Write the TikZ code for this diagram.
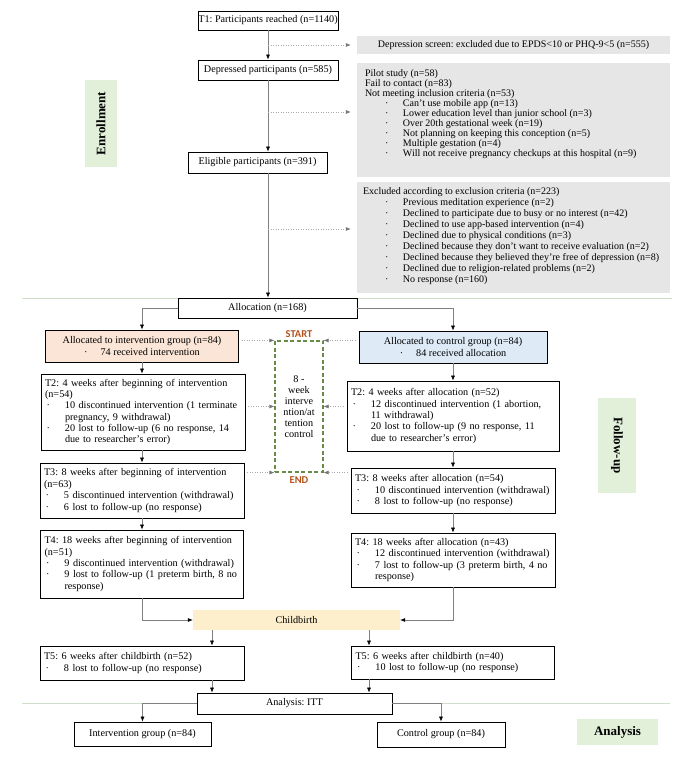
\documentclass[tikz,border=0pt]{standalone}
\usepackage{fontspec}
\setmainfont{Liberation Serif}
\newfontfamily\tagfont{Carlito}
\usepackage{tikz}
\usetikzlibrary{arrows.meta,positioning}
\frenchspacing
\hyphenpenalty=10000
\definecolor{boxgray}{RGB}{231,230,230}
\definecolor{peach}{RGB}{251,229,214}
\definecolor{paleblue}{RGB}{222,235,247}
\definecolor{paleyellow}{RGB}{253,238,204}
\definecolor{phasegreen}{RGB}{226,240,217}
\definecolor{linegray}{RGB}{128,128,128}
\definecolor{dotgray}{RGB}{170,170,170}
\definecolor{sepgreen}{RGB}{208,222,204}
\definecolor{dashgreen}{RGB}{104,140,72}
\definecolor{tagbrown}{RGB}{178,82,28}
\newcommand{\bul}{\makebox[20bp][l]{\hspace{1.5bp}·}}
\newcommand{\ind}{\hspace*{20bp}}
\newcommand{\gbul}{\hspace*{20bp}\makebox[18bp][l]{·}}
\newcommand{\boxfont}{\fontsize{10.2bp}{11.4bp}\selectfont}
\newcommand{\grayfont}{\fontsize{10bp}{10bp}\selectfont}
\tikzstyle{box} = [rectangle, draw=black, line width=0.7bp, fill=white, inner sep=0pt, font=\boxfont]
\tikzstyle{listbox} = [box, align=left, inner xsep=4bp]
\tikzstyle{graybox} = [rectangle, fill=boxgray, inner xsep=8bp, inner ysep=4bp, font=\grayfont]
\tikzstyle{phase} = [rectangle, fill=phasegreen, inner sep=0pt, font=\fontsize{13bp}{13bp}\selectfont\bfseries]
\tikzstyle{timetag} = [font=\tagfont\fontsize{10.5bp}{12bp}\selectfont\bfseries, text=tagbrown]
\tikzstyle{phasebox} = [rectangle, draw=dashgreen, line width=1.1bp, dash pattern=on 4bp off 2.5bp, align=center, inner sep=0pt, font=\fontsize{10.2bp}{11bp}\selectfont]
\tikzstyle{arrow} = [draw=linegray, line width=0.6bp, -{Latex[color=black,length=5bp,width=4bp]}]
\tikzstyle{dotarrow} = [draw=dotgray, line width=0.6bp, dash pattern=on 1bp off 1.5bp, -{Latex[color=dotgray!70!black,length=5bp,width=4bp]}]
\tikzstyle{sepline} = [draw=sepgreen, line width=0.6bp]
\begin{document}
\begin{tikzpicture}
\useasboundingbox (0bp,0bp) rectangle (684bp,759bp);
%% phase separators
\draw [sepline] (22bp,461bp) -- (672bp,461bp);
\draw [sepline] (22bp,56bp) -- (670bp,56bp);
%% enrollment
\node (t1_node) at (268bp,738.5bp) [box, line width=0.9bp, minimum width=140bp, minimum height=19bp] {T1: Participants reached (n=1140)};
\node (screen_node) at (513.5bp,714bp) [graybox, minimum width=313bp, minimum height=18bp] {Depression screen: excluded due to EPDS<10 or PHQ-9<5 (n=555)};
\node (depr_node) at (268bp,689bp) [box, line width=0.9bp, minimum width=140bp, minimum height=20bp] {Depressed participants (n=585)};
\node (pilot_node) at (513.5bp,639bp) [graybox] {\parbox[c][106bp][t]{297bp}{\vspace*{3bp}\noindent
  Pilot study (n=58)\\
  Fail to contact (n=83)\\
  Not meeting inclusion criteria (n=53)\\
  \gbul Can’t use mobile app (n=13)\\
  \gbul Lower education level than junior school (n=3)\\
  \gbul Over 20th gestational week (n=19)\\
  \gbul Not planning on keeping this conception (n=5)\\
  \gbul Multiple gestation (n=4)\\
  \gbul Will not receive pregnancy checkups at this hospital (n=9)}};
\node (elig_node) at (257.5bp,596.5bp) [box, minimum width=139bp, minimum height=21bp] {Eligible participants (n=391)};
\node (excl_node) at (513.5bp,521.5bp) [graybox] {\parbox[c][103bp][t]{297bp}{\fontsize{10bp}{11bp}\selectfont\vspace*{2bp}\noindent
  \hspace*{-2bp}Excluded according to exclusion criteria (n=223)\\
  \gbul Previous meditation experience (n=2)\\
  \gbul Declined to participate due to busy or no interest (n=42)\\
  \gbul Declined to use app-based intervention (n=4)\\
  \gbul Declined due to physical conditions (n=3)\\
  \gbul Declined because they don’t want to receive evaluation (n=2)\\
  \gbul Declined because they believed they’re free of depression (n=8)\\
  \gbul Declined due to religion-related problems (n=2)\\
  \gbul No response (n=160)}};
\node (alloc_node) at (267.5bp,451bp) [box, minimum width=179bp, minimum height=20bp] {Allocation (n=168)};
\node (enroll_node) at (101bp,635.5bp) [phase, rotate=90, minimum width=87bp, minimum height=32bp] {Enrollment};
%% follow-up
\node (ialloc_node) at (142bp,413bp) [box, fill=peach, align=center, minimum width=193bp, minimum height=32bp] {Allocated to intervention group (n=84)\\ ·\hspace{13bp}74 received intervention};
\node (calloc_node) at (453bp,412bp) [box, fill=paleblue, align=center, minimum width=188bp, minimum height=32bp] {Allocated to control group (n=84)\\ ·\hspace{13bp}84 received allocation};
\node (t2i_node) at (143bp,347bp) [listbox, text width=196bp, minimum height=76bp] {T2: 4 weeks after beginning of intervention\\
  (n=54)\\
  \bul 10 discontinued intervention (1 terminate\\
  \ind pregnancy, 9 withdrawal)\\
  \bul 20 lost to follow-up (6 no response, 14\\
  \ind due to researcher’s error)};
\node (t3i_node) at (142bp,268.5bp) [listbox, text width=196bp, minimum height=55bp] {T3: 8 weeks after beginning of intervention\\
  (n=63)\\
  \bul 5 discontinued intervention (withdrawal)\\
  \bul 6 lost to follow-up (no response)};
\node (t4i_node) at (142bp,195bp) [listbox, text width=195bp, minimum height=68bp] {T4: 18 weeks after beginning of intervention\\
  (n=51)\\
  \bul 9 discontinued intervention (withdrawal)\\
  \bul 9 lost to follow-up (1 preterm birth, 8 no\\
  \ind response)};
\node (t2c_node) at (453bp,343bp) [listbox, text width=204bp, minimum height=70bp] {T2: 4 weeks after allocation (n=52)\\
  \bul 12 discontinued intervention (1 abortion,\\
  \ind 11 withdrawal)\\
  \bul 20 lost to follow-up (9 no response, 11\\
  \ind due to researcher’s error)};
\node (t3c_node) at (453bp,268.5bp) [listbox, text width=196bp, minimum height=45bp] {T3: 8 weeks after allocation (n=54)\\
  \bul 10 discontinued intervention (withdrawal)\\
  \bul 8 lost to follow-up (no response)};
\node (t4c_node) at (453bp,199bp) [listbox, text width=196bp, minimum height=54bp] {T4: 18 weeks after allocation (n=43)\\
  \bul 12 discontinued intervention (withdrawal)\\
  \bul 7 lost to follow-up (3 preterm birth, 4 no\\
  \ind response)};
\node (ibox_node) at (299bp,352.5bp) [phasebox, minimum width=48bp, minimum height=131bp] {8 -\\ week\\ interve\\ ntion/at\\ tention\\ control};
\node (start_node) at (299bp,425bp) [timetag] {START};
\node (end_node) at (299bp,279bp) [timetag] {END};
\node (birth_node) at (296.5bp,139bp) [rectangle, fill=paleyellow, font=\boxfont, minimum width=207bp, minimum height=20bp] {Childbirth};
\node (t5i_node) at (142bp,96bp) [listbox, text width=196bp, minimum height=34bp] {T5: 6 weeks after childbirth (n=52)\\
  \bul 8 lost to follow-up (no response)};
\node (t5c_node) at (453bp,96.5bp) [listbox, text width=195bp, minimum height=33bp] {T5: 6 weeks after childbirth (n=40)\\
  \bul 10 lost to follow-up (no response)};
\node (follow_node) at (617bp,313.5bp) [phase, rotate=-90, minimum width=95bp, minimum height=38bp] {Follow-up};
%% analysis
\node (itt_node) at (294.5bp,55.5bp) [box, minimum width=195bp, minimum height=21bp] {Analysis: ITT};
\node (igrp_node) at (142.5bp,25bp) [box, minimum width=137bp, minimum height=24bp] {Intervention group (n=84)};
\node (cgrp_node) at (441bp,24.5bp) [box, minimum width=128bp, minimum height=25bp] {Control group (n=84)};
\node (analysis_node) at (617.5bp,27bp) [phase, minimum width=81bp, minimum height=26bp] {Analysis};
%% main flow
\coordinate (screen_tap) at (268bp,714bp);
\coordinate (pilot_tap) at (268bp,647bp);
\coordinate (excl_tap) at (268bp,530bp);
\draw [arrow] (t1_node.south) -- (depr_node.north);
\draw [arrow] (depr_node.south) -- (depr_node.south |- elig_node.north);
\draw [arrow] (depr_node.south |- elig_node.south) -- (depr_node.south |- alloc_node.north);
\draw [dotarrow, shorten >=6bp] (screen_tap) -- (screen_tap -| screen_node.west);
\draw [dotarrow, shorten >=6bp] (pilot_tap) -- (pilot_tap -| pilot_node.west);
\draw [dotarrow, shorten >=6bp] (excl_tap) -- (excl_tap -| excl_node.west);
\draw [arrow] (alloc_node.west) -| (ialloc_node.north);
\draw [arrow] (alloc_node.east) -| (calloc_node.north);
\draw [arrow] (ialloc_node.south) -- (ialloc_node.south |- t2i_node.north);
\draw [arrow] (ialloc_node.south |- t2i_node.south) -- (ialloc_node.south |- t3i_node.north);
\draw [arrow] (ialloc_node.south |- t3i_node.south) -- (ialloc_node.south |- t4i_node.north);
\draw [arrow] (calloc_node.south) -- (calloc_node.south |- t2c_node.north);
\draw [arrow] (calloc_node.south |- t2c_node.south) -- (calloc_node.south |- t3c_node.north);
\draw [arrow] (calloc_node.south |- t3c_node.south) -- (calloc_node.south |- t4c_node.north);
%% intervention window
\draw [dotarrow, shorten <=3bp] (ialloc_node.east |- ibox_node.north west) -- (ibox_node.north west);
\draw [dotarrow, shorten <=3bp] (calloc_node.west |- ibox_node.north east) -- (ibox_node.north east);
\draw [dotarrow, shorten <=3bp] (t2i_node.east |- ibox_node.west) -- (ibox_node.west);
\draw [dotarrow, shorten <=3bp] (t2c_node.west |- ibox_node.east) -- (ibox_node.east);
\draw [dotarrow, shorten <=3bp] (t3i_node.east |- ibox_node.south west) -- (ibox_node.south west);
\draw [dotarrow, shorten <=3bp] (t3c_node.west |- ibox_node.south east) -- (ibox_node.south east);
%% childbirth and analysis
\draw [arrow] (t4i_node.south) |- (birth_node.west);
\draw [arrow] (t4c_node.south) |- (birth_node.east);
\draw [arrow] ([xshift=-84.5bp]birth_node.south) -- ([xshift=-84.5bp]birth_node.south |- t5i_node.north);
\draw [arrow] ([xshift=72.5bp]birth_node.south) -- ([xshift=72.5bp]birth_node.south |- t5c_node.north);
\draw [arrow] ([xshift=-84.5bp]birth_node.south |- t5i_node.south) -- ([xshift=-84.5bp]birth_node.south |- itt_node.north);
\draw [arrow] ([xshift=72.5bp]birth_node.south |- t5c_node.south) -- ([xshift=72.5bp]birth_node.south |- itt_node.north);
\draw [arrow] (itt_node.west) -| (igrp_node.north);
\draw [arrow] (itt_node.east) -| (cgrp_node.north);
%
\end{tikzpicture}
\end{document}
